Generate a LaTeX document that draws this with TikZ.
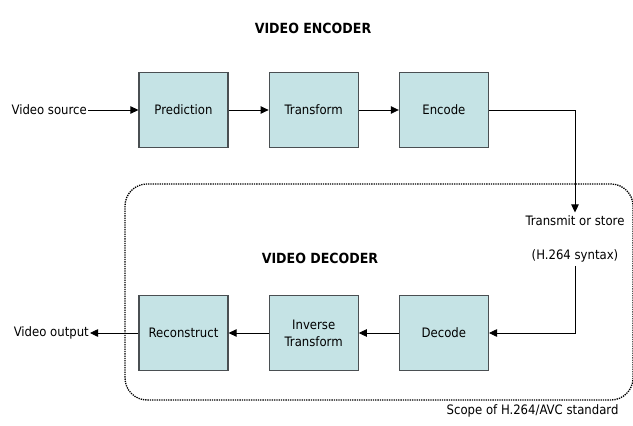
\documentclass[tikz,border=0pt]{standalone}
\usepackage{fontspec}
\setmainfont{DejaVu Sans Condensed}
\usetikzlibrary{positioning, arrows.meta}
\definecolor{fcyan}{HTML}{C5E3E5}
\definecolor{dgray}{HTML}{4A4F52}

\tikzset{
  block/.style={draw=dgray, fill=fcyan, line width=1.2pt, minimum width=89pt, minimum height=75pt, align=center, inner sep=2pt},
  flow/.style={-{Triangle[length=8pt,width=7.5pt]}, line width=.8pt},
  title/.style={font=\fontsize{14}{17}\selectfont\bfseries}
}

\begin{document}
\begin{tikzpicture}[x=1pt, y=1pt, font=\fontsize{13}{17}\selectfont]
\useasboundingbox (0,0) rectangle (633,-426);

% scope of the standard
\draw[densely dotted, line width=1.3pt, rounded corners=22pt] (125,-184) rectangle (633,-400);
\node[anchor=north east] (scope) at (622,-401) {Scope of H.264/AVC standard};

% encoder row
\node[title] (enctitle) at (313,-28) {VIDEO ENCODER};
\node[block] (pred) at (183.5,-110) {Prediction};
\node[block, right=40pt of pred] (trans) {Transform};
\node[block, right=40pt of trans] (enc) {Encode};
\node[anchor=east, inner sep=1pt] (src) at (88,-110) {Video source};

% transmission
\node (tx) at (575,-221) {Transmit or store};
\node (syn) at (575,-256) {(H.264 syntax)};

% decoder row
\node[title] (dectitle) at (320,-258) {VIDEO DECODER};
\node[block] (rec) at (183.5,-333) {Reconstruct};
\node[block, right=40pt of rec] (itrans) {Inverse\\Transform};
\node[block, right=40pt of itrans] (dec) {Decode};
\node[anchor=east, inner sep=1pt] (out) at (90,-333) {Video output};

\draw[flow] (src) -- (pred);
\draw[flow] (pred) -- (trans);
\draw[flow] (trans) -- (enc);
\draw[flow] (enc.east) -| (tx.north);
\draw[flow] (syn.south) |- (dec.east);
\draw[flow] (dec) -- (itrans);
\draw[flow] (itrans) -- (rec);
\draw[flow] (rec) -- (out);

\end{tikzpicture}
\end{document}
